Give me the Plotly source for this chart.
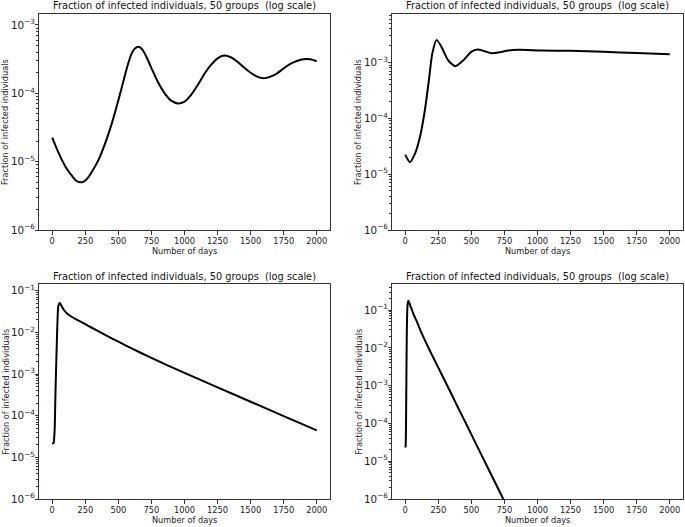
import math
import plotly.graph_objects as go

# ---------------- data ----------------
days_a = [0, 50, 100, 150, 175, 200, 225, 250, 275, 300, 350, 400, 450, 500, 550, 575, 600,
          625, 650, 675, 700, 725, 750, 800, 850, 900, 950, 1000, 1050, 1100, 1150, 1200,
          1250, 1300, 1350, 1400, 1450, 1500, 1550, 1600, 1650, 1700, 1750, 1800, 1850, 1900,
          1950, 2000]
frac_a = [2.25e-5, 1.32e-5, 8.45e-6, 6.17e-6, 5.4e-6, 5.05e-6, 5.0e-6, 5.3e-6, 6.0e-6, 7.1e-6,
          1.06e-5, 1.85e-5, 3.6e-5, 7.9e-5, 1.85e-4, 2.75e-4, 3.8e-4, 4.52e-4, 4.81e-4,
          4.52e-4, 3.8e-4, 3.02e-4, 2.34e-4, 1.45e-4, 1.0e-4, 7.8e-5, 7.1e-5, 7.55e-5, 9.5e-5,
          1.32e-4, 1.92e-4, 2.6e-4, 3.25e-4, 3.56e-4, 3.37e-4, 2.9e-4, 2.38e-4, 2.0e-4,
          1.75e-4, 1.66e-4, 1.75e-4, 1.96e-4, 2.32e-4, 2.69e-4, 2.97e-4, 3.15e-4, 3.15e-4,
          2.95e-4]

days_b = [0, 35, 73, 111, 148, 179, 204, 237, 275, 325, 380, 438, 501, 547, 600, 653, 715,
          779, 855, 1031, 1250, 1500, 1750, 2000]
frac_b = [2.24e-5, 1.64e-5, 2.31e-5, 4.6e-5, 1.38e-4, 4.8e-4, 1.43e-3, 2.55e-3, 1.89e-3,
          1.09e-3, 8.6e-4, 1.09e-3, 1.57e-3, 1.71e-3, 1.6e-3, 1.47e-3, 1.53e-3, 1.64e-3,
          1.69e-3, 1.64e-3, 1.62e-3, 1.56e-3, 1.48e-3, 1.41e-3]

days_c = [0, 10, 18, 25, 33, 40, 45, 52, 58, 75, 90, 110, 130, 160, 200, 250, 300, 400, 500,
          600, 750, 1000, 1250, 1500, 1750, 2000]
frac_c = [2.1e-5, 2.2e-5, 4.4e-5, 4.0e-4, 3.6e-3, 2.0e-2, 4.0e-2, 4.9e-2, 5.07e-2, 4.07e-2,
          3.39e-2, 2.88e-2, 2.57e-2, 2.24e-2, 1.91e-2, 1.567e-2, 1.288e-2, 8.71e-3, 5.96e-3,
          4.12e-3, 2.43e-3, 1.06e-3, 4.79e-4, 2.16e-4, 9.77e-5, 4.42e-5]

days_d = [0, 3, 6, 9, 12, 16, 20, 23, 30, 38, 48, 65, 85, 123, 161, 199, 250, 337, 400, 464,
          577, 686, 741, 800]
frac_d = [2.3e-5, 2.5e-5, 1.0e-4, 2.0e-3, 2.5e-2, 1.1e-1, 1.6e-1, 1.76e-1, 1.6e-1, 1.3e-1,
          1.07e-1, 7.4e-2, 5.25e-2, 2.5e-2, 1.29e-2, 6.8e-3, 3.0e-3, 7.3e-4, 2.6e-4, 9.2e-5,
          1.45e-5, 2.45e-6, 1.0e-6, 4.0e-7]

x_ticks = [0, 250, 500, 750, 1000, 1250, 1500, 1750, 2000]
y_ranges = [[-6, -2.84], [-6, -2.13], [-6, -0.84], [-6, -0.31]]

title_text = "Fraction of infected individuals, 50 groups  (log scale)"
xlabel_text = "Number of days"
ylabel_text = "Fraction of infected individuals"

# ---------------- layout geometry ----------------
W, H = 685, 527
boxes = [  # left, right, top, bottom in pixels
    (39, 330, 14, 230),
    (392, 683, 14, 230),
    (39, 330, 284, 499),
    (392, 683, 284, 499),
]

FONT = "DejaVu Sans"
AX = "#333333"
fig = go.Figure()

series = [(days_a, frac_a, 0.8), (days_b, frac_b, 0.6),
          (days_c, frac_c, 0.5), (days_d, frac_d, 0.5)]

annotations = []
for i, ((xs, ys, sm), (l, r, t, b), yr) in enumerate(zip(series, boxes, y_ranges)):
    n = "" if i == 0 else str(i + 1)
    m = str(i + 5)
    fig.add_trace(go.Scatter(x=xs, y=ys, mode="lines",
                             line=dict(color="black", width=2, shape="spline", smoothing=sm),
                             xaxis="x" + n, yaxis="y" + n, showlegend=False,
                             hoverinfo="skip"))
    # invisible trace so the minor-tick overlay axis is drawn
    fig.add_trace(go.Scatter(x=[None], y=[None], mode="lines", xaxis="x" + n,
                             yaxis="y" + m, showlegend=False, hoverinfo="skip"))
    xd = [l / W, r / W]
    yd = [1 - b / H, 1 - t / H]
    fig.layout["xaxis" + n] = dict(
        domain=xd, anchor="y" + n, range=[-100, 2100], tickvals=x_ticks,
        ticks="outside", ticklen=4, tickcolor=AX, showgrid=False, zeroline=False,
        showline=True, linecolor=AX, linewidth=1, mirror=True, automargin=False,
        ticklabelstandoff=-1,
        tickfont=dict(family=FONT, size=8.3, color="#222"))
    fig.layout["yaxis" + n] = dict(
        domain=yd, anchor="x" + n, type="log", range=yr, dtick=1,
        exponentformat="power", ticks="outside", ticklen=3.5, tickcolor=AX,
        showgrid=False, zeroline=False, automargin=False, ticklabelstandoff=-2,
        showline=True, linecolor=AX, linewidth=1, mirror=True,
        tickfont=dict(family=FONT, size=8.3, color="#222"))
    minors = [k * 10.0 ** e for e in range(-6, 0) for k in range(2, 10)
              if yr[0] < e + math.log10(k) < yr[1]]
    fig.layout["yaxis" + m] = dict(
        domain=yd, anchor="x" + n, overlaying="y" + n, side="left", type="log",
        range=yr, tickvals=minors, showticklabels=False, ticks="outside", ticklen=2,
        tickcolor=AX, showgrid=False, zeroline=False, showline=False, automargin=False)
    cx = (l + r) / 2 / W
    annotations.append(dict(text=title_text, x=cx, y=1 - (t - 8) / H, xref="paper",
                            yref="paper", showarrow=False, xanchor="center",
                            yanchor="middle", font=dict(family=FONT, size=9.8, color="#111")))
    annotations.append(dict(text=xlabel_text, x=cx, y=1 - (b + 20.5) / H, xref="paper",
                            yref="paper", showarrow=False, xanchor="center",
                            yanchor="middle", font=dict(family=FONT, size=8.2, color="#222")))
    lx = 5 if l < 100 else 358
    annotations.append(dict(text=ylabel_text, x=lx / W, y=1 - (t + b) / 2 / H, xref="paper",
                            yref="paper", showarrow=False, xanchor="center",
                            yanchor="middle", textangle=-90,
                            font=dict(family=FONT, size=8.2, color="#222")))

fig.update_layout(width=W, height=H, margin=dict(l=0, r=0, t=0, b=0),
                  paper_bgcolor="white", plot_bgcolor="white",
                  annotations=annotations)

fig.write_html("out.html", config={"displayModeBar": False},
               post_script="document.body.style.margin='0';document.body.style.overflow='hidden';")
